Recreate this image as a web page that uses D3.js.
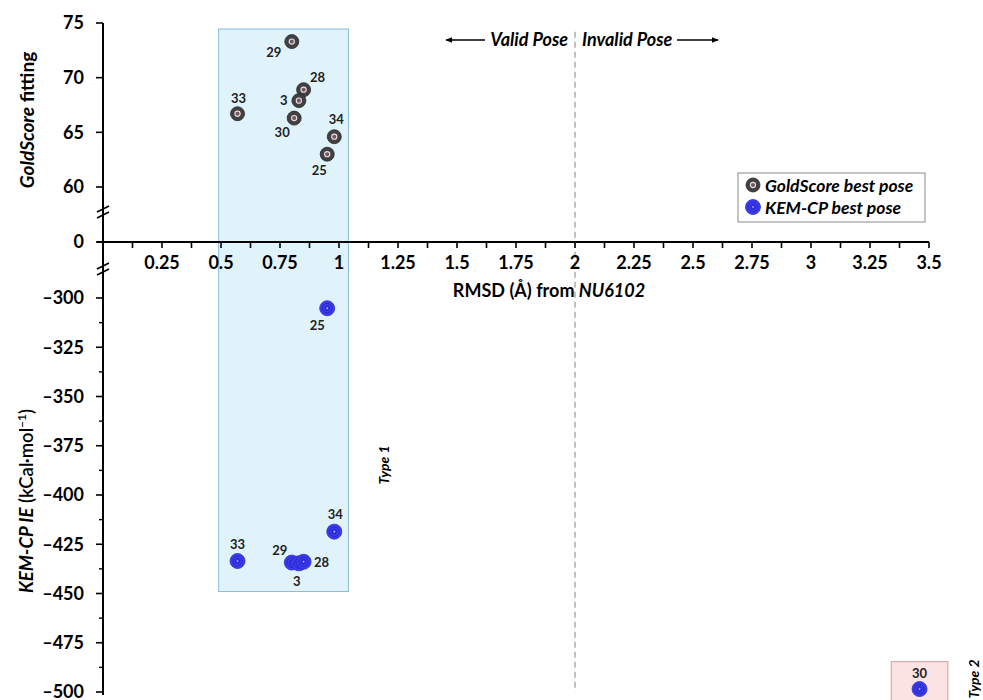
<!DOCTYPE html>
<html>
<head>
<meta charset="utf-8">
<script src="https://cdn.jsdelivr.net/npm/d3@7"></script>
<style>
  body { margin: 0; background: #fff; }
  text { font-family: Lato, "Open Sans", sans-serif; font-weight: 700; }
</style>
</head>
<body>
<svg id="chart" width="983" height="700"></svg>
<script>
// compounds and their best poses
var goldIds   = ["29", "28", "3", "30", "33", "34", "25"];
var goldRmsd  = [0.80, 0.85, 0.83, 0.81, 0.57, 0.98, 0.95];
var goldScore = [73.3, 68.9, 67.9, 66.3, 66.7, 64.6, 63.0];

var kemIds  = ["25", "34", "33", "29", "3", "28", "30"];
var kemRmsd = [0.95, 0.98, 0.57, 0.80, 0.83, 0.85, 3.46];
var kemIE   = [-305.2, -418.6, -433.5, -434.3, -434.7, -433.9, -498.5];

var xTicks = [0.25, 0.5, 0.75, 1, 1.25, 1.5, 1.75, 2, 2.25, 2.5, 2.75, 3, 3.25, 3.5];
var yTicksTop = [60, 65, 70, 75];
var yTicksLow = [-500, -475, -450, -425, -400, -375, -350, -325, -300];

var svg = d3.select("#chart");

// broken y axis: lower block, zero, upper block
var x = d3.scaleLinear().domain([0, 3.5]).range([103, 929]);
var y = d3.scaleLinear().domain([-500, -300, 0, 60, 75]).range([692, 298, 242, 187, 23]);

// highlighted regions
svg.append("rect")
  .attr("x", x(0.49)).attr("y", y(74.45))
  .attr("width", x(1.04) - x(0.49)).attr("height", y(-449) - y(74.45))
  .style("fill", "#e0f3fb").style("stroke", "#8cbcd6").style("stroke-width", 1);

svg.append("rect")
  .attr("x", x(3.34)).attr("y", y(-484.6))
  .attr("width", x(3.58) - x(3.34)).attr("height", 60)
  .style("fill", "#fbe3e3").style("stroke", "#d49a9a").style("stroke-width", 1);

// valid / invalid threshold
svg.append("line")
  .attr("x1", x(2)).attr("x2", x(2))
  .attr("y1", y(74.2)).attr("y2", y(-500))
  .style("stroke", "#a0a0a0").style("stroke-width", 1.3).style("stroke-dasharray", "6,4");

// x axis
var xAxis = svg.append("g");
xAxis.append("line")
  .attr("x1", 97).attr("x2", x(3.5)).attr("y1", y(0)).attr("y2", y(0))
  .style("stroke", "black").style("stroke-width", 2);
d3.range(1, 29).forEach(function(i) {
  xAxis.append("line")
    .attr("x1", x(i * 0.125)).attr("x2", x(i * 0.125))
    .attr("y1", y(0)).attr("y2", y(0) + 6)
    .style("stroke", "black").style("stroke-width", 1.6);
});
xTicks.forEach(function(t) {
  xAxis.append("text")
    .attr("x", x(t)).attr("y", y(0) + 27)
    .attr("text-anchor", "middle")
    .style("font-size", "18px")
    .text(String(t));
});
var xl = xAxis.append("text")
  .attr("x", 549).attr("y", 297)
  .attr("text-anchor", "middle")
  .style("font-size", "18px");
xl.append("tspan").text("RMSD (Å) from ");
xl.append("tspan").style("font-style", "italic").text("NU6102");

// y axis
var yAxis = svg.append("g");
yAxis.append("line")
  .attr("x1", x(0)).attr("x2", x(0)).attr("y1", y(75)).attr("y2", y(-500) + 3)
  .style("stroke", "black").style("stroke-width", 2);
yTicksTop.concat([0], yTicksLow).forEach(function(t) {
  yAxis.append("line")
    .attr("x1", x(0) - 7).attr("x2", x(0))
    .attr("y1", y(t)).attr("y2", y(t))
    .style("stroke", "black").style("stroke-width", 1.6);
  yAxis.append("text")
    .attr("x", x(0) - 19).attr("y", y(t))
    .attr("dy", "0.35em")
    .attr("text-anchor", "end")
    .style("font-size", "18px")
    .text(t < 0 ? "\u2013" + Math.abs(t) : String(t));
});
yTicksLow.slice(0, -1).forEach(function(t) {
  yAxis.append("line")
    .attr("x1", x(0) - 4).attr("x2", x(0))
    .attr("y1", y(t + 12.5)).attr("y2", y(t + 12.5))
    .style("stroke", "black").style("stroke-width", 1.4);
});

// break marks
[212, 269].forEach(function(py) {
  [-3, 3].forEach(function(off) {
    yAxis.append("line")
      .attr("x1", x(0) - 6).attr("x2", x(0) + 6)
      .attr("y1", py + off + 3).attr("y2", py + off - 3)
      .style("stroke", "black").style("stroke-width", 1.8);
  });
});

// y titles
var yt1 = svg.append("text")
  .attr("transform", "translate(34,120)rotate(-90)")
  .attr("text-anchor", "middle")
  .style("font-size", "19px");
yt1.append("tspan").style("font-style", "italic").text("GoldScore");
yt1.append("tspan").text(" fitting");

var yt2 = svg.append("text")
  .attr("transform", "translate(33,501)rotate(-90)")
  .attr("text-anchor", "middle")
  .style("font-size", "18.5px");
yt2.append("tspan").style("font-style", "italic").text("KEM-CP IE");
yt2.append("tspan").style("font-weight", 600).text(" (kCal\u00b7mol");
yt2.append("tspan").style("font-size", "12px").style("font-weight", 600).attr("dy", -7).text("\u22121");
yt2.append("tspan").style("font-weight", 600).attr("dy", 7).text(")");

// valid / invalid annotation
var ann = svg.append("g").style("font-size", "18px").style("font-style", "italic");
ann.append("text").attr("x", x(2) - 7).attr("y", 46).attr("text-anchor", "end").text("Valid Pose");
ann.append("text").attr("x", x(2) + 7).attr("y", 46).text("Invalid Pose");
svg.append("defs").append("marker")
  .attr("id", "arr").attr("viewBox", "0 0 10 10").attr("refX", 9).attr("refY", 5)
  .attr("markerWidth", 5).attr("markerHeight", 5).attr("orient", "auto-start-reverse")
  .append("path").attr("d", "M0,1L10,5L0,9Z").style("fill", "black");
svg.append("line").attr("x1", 485).attr("x2", 446).attr("y1", 40).attr("y2", 40)
  .style("stroke", "black").style("stroke-width", 1.4).attr("marker-end", "url(#arr)");
svg.append("line").attr("x1", 677).attr("x2", 718).attr("y1", 40).attr("y2", 40)
  .style("stroke", "black").style("stroke-width", 1.4).attr("marker-end", "url(#arr)");

// type labels
svg.append("text").attr("transform", "translate(389,465)rotate(-90)")
  .attr("text-anchor", "middle").style("font-size", "14px").style("font-style", "italic").text("Type 1");
svg.append("text").attr("transform", "translate(979,679)rotate(-90)")
  .attr("text-anchor", "middle").style("font-size", "14px").style("font-style", "italic").text("Type 2");

// markers
function goldMark(g) {
  g.append("circle").attr("r", 7).style("fill", "#414141").style("stroke", "#2a2a2a").style("stroke-width", 0.8);
  g.append("circle").attr("r", 2.6).style("fill", "#6a5a62").style("stroke", "#f2d9e6").style("stroke-width", 1.1);
}
function kemMark(g) {
  g.append("circle").attr("r", 7.5).style("fill", "#3b3bf0").style("stroke", "#2c2cc8").style("stroke-width", 0.8);
  g.append("circle").attr("r", 4.8).style("fill", "none").style("stroke", "#2525b5").style("stroke-width", 0.8);
  g.append("circle").attr("r", 2.3).style("fill", "none").style("stroke", "#2020a8").style("stroke-width", 0.8);
  g.append("circle").attr("r", 0.8).style("fill", "#c8c8ff");
}

// label offsets (px) for each point label
var goldLab = { "29": [-18, 11], "28": [14, -12], "3": [-15, 0], "30": [-12, 14], "33": [1, -15], "34": [2, -17], "25": [-8, 16] };
var kemLab  = { "25": [-10, 17], "34": [1, -17], "33": [0, -17], "29": [-12, -12], "3": [-2, 18], "28": [18, 1], "30": [0, -16] };

goldIds.forEach(function(id, i) {
  var g = svg.append("g").attr("transform", "translate(" + x(goldRmsd[i]) + "," + y(goldScore[i]) + ")");
  goldMark(g);
});
goldIds.forEach(function(id, i) {
  svg.append("text")
    .attr("x", x(goldRmsd[i]) + goldLab[id][0]).attr("y", y(goldScore[i]) + goldLab[id][1])
    .attr("dy", "0.35em").attr("text-anchor", "middle").style("font-size", "13px").style("fill", "#222")
    .text(id);
});
kemIds.forEach(function(id, i) {
  var g = svg.append("g").attr("transform", "translate(" + x(kemRmsd[i]) + "," + y(kemIE[i]) + ")");
  kemMark(g);
});
kemIds.forEach(function(id, i) {
  svg.append("text")
    .attr("x", x(kemRmsd[i]) + kemLab[id][0]).attr("y", y(kemIE[i]) + kemLab[id][1])
    .attr("dy", "0.35em").attr("text-anchor", "middle").style("font-size", "13px").style("fill", "#222")
    .text(id);
});

// legend
var lg = svg.append("g").attr("transform", "translate(738,173)");
lg.append("rect").attr("width", 187).attr("height", 49)
  .style("fill", "white").style("stroke", "#8a8a8a").style("stroke-width", 1);
goldMark(lg.append("g").attr("transform", "translate(15,12)"));
kemMark(lg.append("g").attr("transform", "translate(15,34)"));
lg.append("text").attr("x", 27).attr("y", 13).attr("dy", "0.35em")
  .style("font-size", "17.5px").style("font-style", "italic").text("GoldScore best pose");
lg.append("text").attr("x", 27).attr("y", 35).attr("dy", "0.35em")
  .style("font-size", "17.5px").style("font-style", "italic").text("KEM-CP best pose");
</script>
</body>
</html>
